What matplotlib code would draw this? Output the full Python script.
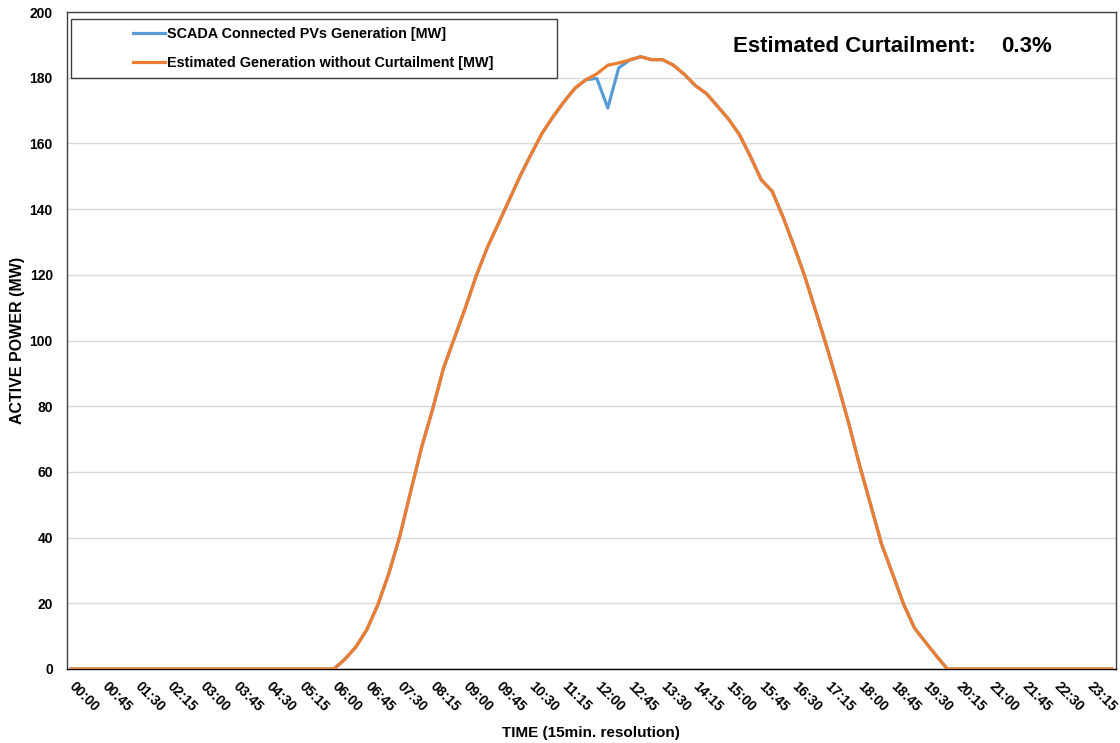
import matplotlib
matplotlib.use('Agg')
import numpy as np
import matplotlib.pyplot as plt
from matplotlib.patches import Rectangle

plt.rcParams['font.family'] = ['Liberation Sans', 'DejaVu Sans']
plt.rcParams['font.weight'] = 'bold'

# 15-min time slots for one day
times = ['{:02d}:{:02d}'.format(h, m) for h in range(24) for m in (0, 15, 30, 45)]

# estimated generation without curtailment (MW), 06:00 .. 20:00 (zeros elsewhere)
est_day = [0, 3, 6.7, 12, 19.5, 29, 40.3, 54, 67.5, 79, 91.6, 100.8, 110, 119.8,
           128.3, 135.5, 142.8, 150.1, 156.7, 163.1, 168.1, 172.7, 176.8, 179.4,
           181.2, 183.8, 184.5, 185.4, 186.4, 185.5, 185.5, 183.8, 181.0, 177.6,
           175.2, 171.4, 167.5, 162.8, 156.2, 149.0, 145.5, 137.6, 128.8, 119.4,
           108.8, 98.0, 86.7, 74.8, 61.9, 50.0, 38.0, 29.0, 19.8, 12.5, 8.2, 4.0, 0]
day_start = 24

estimated = [0] * day_start + est_day + [0] * (96 - day_start - len(est_day))

# SCADA values differ only around noon (11:45 .. 12:30)
scada = list(estimated)
scada_diff = {47: 179.4, 48: 179.8, 49: 170.8, 50: 183.0}
for k, v in scada_diff.items():
    scada[k] = v

curtailment = '0.3%'

x = np.arange(len(times))

fig = plt.figure(figsize=(11.2, 7.43), dpi=100)
ax = fig.add_axes([0.0596, 0.0996, 0.9368, 0.8842])

ax.plot(x, scada, color='#5B9BD5', linewidth=2.3, label='SCADA Connected PVs Generation [MW]', zorder=3)
ax.plot(x, estimated, color='#ED7D31', linewidth=2.3, label='Estimated Generation without Curtailment [MW]', zorder=4)

ax.set_xlim(-0.4, 95.4)
ax.set_ylim(0, 200)
ax.set_yticks(np.arange(0, 201, 20))
ax.grid(axis='y', color='#d9d9d9', linewidth=1)
ax.set_axisbelow(True)

tick_idx = np.arange(0, 96, 3)
ax.set_xticks(tick_idx)
ax.set_xticklabels([times[i] for i in tick_idx], rotation=-45, ha='left', va='center',
                   rotation_mode='anchor', fontsize=10, fontweight='bold')
ax.tick_params(axis='x', length=0, pad=11)
ax.tick_params(axis='y', length=0, pad=10, labelsize=10)
for lbl in ax.get_yticklabels():
    lbl.set_fontweight('bold')

for s in ax.spines.values():
    s.set_color('#404040')
    s.set_linewidth(1)
ax.spines['bottom'].set_color('black')

ax.set_xlabel('TIME (15min. resolution)', fontsize=11, fontweight='bold', labelpad=8)
ax.set_ylabel('ACTIVE POWER (MW)', fontsize=11.5, fontweight='bold', labelpad=3)

# legend with a hand drawn frame
ax.add_patch(Rectangle((0.0038, 0.8995), 0.4634, 0.0898, transform=ax.transAxes,
                       fill=False, edgecolor='#404040', linewidth=1, zorder=5))
leg = ax.legend(loc='upper left', bbox_to_anchor=(0.0632, 0.9772), frameon=False,
                prop={'size': 10.4, 'weight': 'bold'}, handlelength=2.2,
                handletextpad=0.15, labelspacing=1.02, borderpad=0, borderaxespad=0)

ax.text(0.635, 0.9387, 'Estimated Curtailment:', transform=ax.transAxes,
        fontsize=16, fontweight='bold', va='baseline', ha='left')
ax.text(0.891, 0.9387, curtailment, transform=ax.transAxes,
        fontsize=16, fontweight='bold', va='baseline', ha='left')

plt.savefig('out.png', dpi=100)
